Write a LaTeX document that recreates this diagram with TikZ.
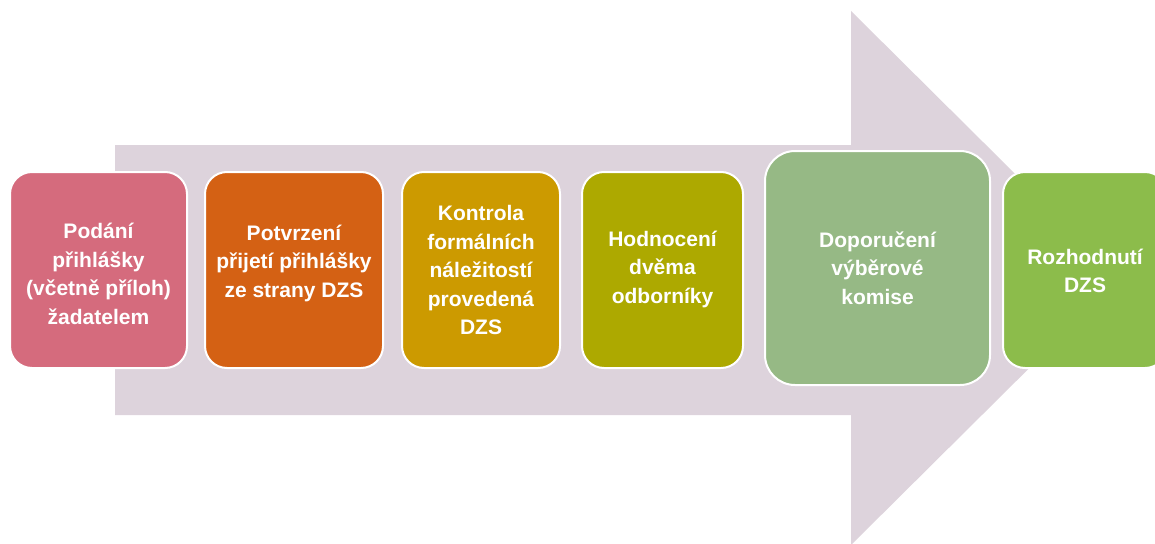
\documentclass[tikz,border=0pt]{standalone}
\usepackage{fontspec}
\setmainfont{Liberation Sans}
\definecolor{arrowc}{HTML}{DDD3DC}
\definecolor{cA}{HTML}{D56B7D}
\definecolor{cB}{HTML}{D46114}
\definecolor{cC}{HTML}{CC9A00}
\definecolor{cD}{HTML}{ADA900}
\definecolor{cE}{HTML}{96B985}
\definecolor{cF}{HTML}{8CBC4B}
\tikzset{
  stepbox/.style={draw=white, line width=2pt, rounded corners=22pt, inner sep=0pt},
  steptext/.style={inner sep=0pt, align=center, text=white,
    font=\fontsize{21}{28.5}\selectfont\bfseries},
}
\begin{document}
\begin{tikzpicture}[x=1pt,y=-1pt]
\useasboundingbox (0,0) rectangle (1155,543);
\clip (0,0) rectangle (1155,543);
\fill[arrowc] (115,145) -- (851,145) -- (851,11) -- (1120,278) -- (851,545) -- (851,415) -- (115,415) -- cycle;
\node[stepbox, fill=cA, minimum width=177pt, minimum height=196pt] (s1) at (98.5,270) {};
\node[stepbox, fill=cB, minimum width=178pt, minimum height=196pt] (s2) at (294,270) {};
\node[stepbox, fill=cC, minimum width=158pt, minimum height=196pt] (s3) at (481,270) {};
\node[stepbox, fill=cD, minimum width=161pt, minimum height=196pt] (s4) at (662.5,270) {};
\node[stepbox, fill=cE, rounded corners=30pt, minimum width=225pt, minimum height=234pt] (s5) at (877.5,268) {};
\node[stepbox, fill=cF, minimum width=164pt, minimum height=196pt] (s6) at (1085,270) {};
\node[steptext] (t1) at ([yshift=-4pt]s1.center) {Podání\\přihlášky\\(včetně příloh)\\žadatelem};
\node[steptext] (t2) at ([yshift=7pt]s2.center) {Potvrzení\\přijetí přihlášky\\ze strany DZS};
\node[steptext] (t3) at (s3.center) {Kontrola\\formálních\\náležitostí\\provedená\\DZS};
\node[steptext] (t4) at ([yshift=1pt]s4.center) {Hodnocení\\dvěma\\odborníky};
\node[steptext] (t5) at (s5.center) {Doporučení\\výběrové\\komise};
\node[steptext] (t6) at ([yshift=-1pt]s6.center) {Rozhodnutí\\DZS};
\end{tikzpicture}
\end{document}
